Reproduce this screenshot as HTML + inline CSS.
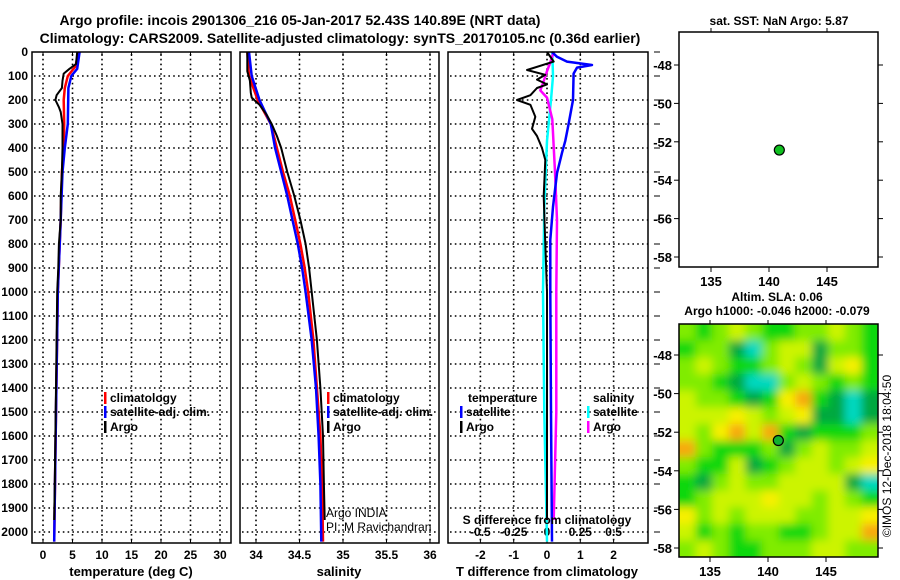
<!DOCTYPE html>
<html><head><meta charset="utf-8"><style>
body{margin:0;background:#fff;}
svg{display:block;font-family:"Liberation Sans",sans-serif;font-weight:bold;}
</style></head><body>
<svg id="s" width="900" height="580" viewBox="0 0 900 580">
<defs>
<filter id="blur" filterUnits="userSpaceOnUse" x="660" y="300" width="240" height="280"><feGaussianBlur stdDeviation="4.5"/></filter>
<clipPath id="mapclip"><rect x="679" y="324" width="199" height="233"/></clipPath>
</defs>
<g id="root"></g>
</svg>
<script>
// ---------- data ----------
const depthTicks=[0,100,200,300,400,500,600,700,800,900,1000,1100,1200,1300,1400,1500,1600,1700,1800,1900,2000];
const tempTicks=[0,5,10,15,20,25,30];
const salTicks=[34,34.5,35,35.5,36];
const salTickLabels=["34","34.5","35","35.5","36"];
const tdiffTicks=[-2,-1,0,1,2];
const sdiffTicks=[-0.5,-0.25,0,0.25,0.5];
const sdiffTickLabels=["-0.5","-0.25","0","0.25","0.5"];

const tArgoDepth=[0,50,70,90,120,150,180,200,230,250,300,400,500,600,700,800,900,1000,1200,1400,1600,1800,1950];
const tArgoVal=[5.8,5.6,4.5,3.5,3.3,3.2,2.3,2.1,2.7,3.0,3.3,3.3,3.2,3.0,3.0,2.7,2.6,2.4,2.3,2.2,2.1,2.0,1.9];
const tClimDepth=[0,60,100,150,200,300,400,500,700,1000,1500,2040];
const tClimVal=[6.0,5.5,4.2,3.7,3.5,3.6,3.5,3.2,3.0,2.5,2.2,1.9];
const tSatDepth=[0,70,100,150,300,400,500,700,1000,1500,2040];
const tSatVal=[6.2,5.8,4.8,4.3,4.2,3.7,3.3,3.0,2.5,2.2,1.9];

const sArgoDepth=[0,80,120,170,190,220,260,300,350,400,500,600,700,800,900,1000,1200,1400,1600,1800,1950];
const sArgoVal=[33.90,33.90,33.93,33.94,33.95,34.04,34.12,34.18,34.24,34.29,34.36,34.44,34.51,34.57,34.61,34.64,34.70,34.74,34.77,34.78,34.79];
const sClimDepth=[0,100,200,300,400,500,600,700,800,900,1000,1200,1400,1600,1800,2040];
const sClimVal=[33.90,33.92,34.02,34.17,34.24,34.31,34.39,34.45,34.51,34.56,34.60,34.66,34.70,34.74,34.76,34.77];
const sSatDepth=[0,100,200,300,400,500,600,700,800,900,1000,1200,1400,1600,1800,2040];
const sSatVal=[33.92,33.95,34.04,34.17,34.22,34.29,34.36,34.42,34.48,34.53,34.57,34.64,34.69,34.72,34.74,34.75];

const dtArgoDepth=[0,40,75,95,115,135,150,180,200,220,270,320,350,400,450,600,800,1000,1950];
const dtArgoVal=[0,0.2,-0.6,-0.05,-0.3,0,-0.3,-0.5,-0.9,-0.5,-0.35,-0.45,-0.3,-0.15,-0.05,-0.1,-0.05,0,0];
const dtSatDepth=[0,20,40,54,65,90,200,300,370,420,505,645,783,1000,1500,2040];
const dtSatVal=[0.15,0.3,0.6,1.35,0.9,0.8,0.78,0.65,0.55,0.45,0.3,0.18,0.1,0.1,0.12,0.15];
const dsArgoDepth=[0,50,80,130,160,190,280,500,700,1000,1500,1950];
const dsArgoVal=[0.05,0.02,0,-0.03,-0.05,0,0.04,0.06,0.075,0.07,0.07,0.05];
const dsSatDepth=[0,100,200,370,650,1000,1500,2040];
const dsSatVal=[0.04,0.045,0.03,0,-0.02,-0.03,-0.02,0];

const lonTicks=[135,140,145];
const latTicks=[-48,-50,-52,-54,-56,-58];
const argoLon=140.89, argoLat=-52.43;

// SLA heatmap, rows north->south, levels 0(teal)..6(orange)
const slaGrid=[
[3,2,3,4,3,2,2,3,3,4,3,2],
[2,3,3,1,0,3,4,4,1,3,3,2],
[3,4,3,2,2,3,4,3,1,4,5,2],
[3,3,2,1,0,0,3,4,3,2,3,2],
[4,3,3,2,1,2,5,6,2,1,0,1],
[4,4,4,5,4,3,4,5,1,1,0,1],
[4,3,5,6,4,6,2,1,2,2,2,3],
[6,3,2,2,2,3,1,3,4,3,3,4],
[3,2,2,4,1,2,3,4,4,3,4,5],
[2,1,3,4,3,3,4,4,4,4,1,0],
[2,3,4,4,4,5,4,4,3,4,3,2],
[5,3,4,3,4,4,4,3,3,4,4,5],
[4,2,3,2,3,3,2,2,3,4,4,6],
[3,4,3,2,2,3,3,3,4,4,3,3]];
const slaColors=["#00d8c0","#00a840","#10d810","#80ec00","#ccf400","#f8f000","#f8a810"];

// ---------- helpers ----------
const NS="http://www.w3.org/2000/svg";
const root=document.getElementById('root');
function el(tag,attrs,parent){const e=document.createElementNS(NS,tag);for(const k in attrs)e.setAttribute(k,attrs[k]);(parent||root).appendChild(e);return e;}
function txt(x,y,s,anchor,size,parent){const t=el('text',{x:x,y:y,'text-anchor':anchor||'middle','font-size':size||12},parent);t.textContent=s;return t;}

const top0=52, pxPerM=0.24, bottom=543;
const yD=d=>top0+d*pxPerM;
const panels=[
 {x0:32,x1:231,fn:v=>43+v*5.9},
 {x0:240,x1:439,fn:v=>256+(v-34)*87},
 {x0:448,x1:648,fn:v=>547+v*33.3}
];
const xS2=v=>547+v*133.2;
const dot={stroke:'#000','stroke-dasharray':'1.6 3.2','stroke-width':1.6};
function dl(x1,y1,x2,y2,g){const a=Object.assign({x1:x1,y1:y1,x2:x2,y2:y2},dot);return el('line',a,g);}

panels.forEach((p,i)=>{
 const g=el('g',{});
 
 
 depthTicks.forEach(d=>{
  if(d>0) dl(p.x0+2,yD(d),p.x1,yD(d),g);
 });
});
depthTicks.forEach(d=>{const t=txt(28,yD(d)+4,String(d),'end',12);});
depthTicks.forEach(d=>{el('line',{x1:654,x2:660,y1:yD(d),y2:yD(d),stroke:'#000'});});

function vgrid(p,vals,fn){vals.forEach(v=>{const x=fn(v);dl(x,top0+2,x,bottom);
 el('line',{x1:x,x2:x,y1:bottom,y2:bottom-4,stroke:'#000'});el('line',{x1:x,x2:x,y1:top0,y2:top0+4,stroke:'#000'});});}
vgrid(panels[0],tempTicks,panels[0].fn);
vgrid(panels[1],salTicks,panels[1].fn);
vgrid(panels[2],tdiffTicks,panels[2].fn);

tempTicks.forEach(v=>{const t=txt(panels[0].fn(v),559,String(v));});
salTicks.forEach((v,i)=>{const t=txt(panels[1].fn(v),559,salTickLabels[i]);});
tdiffTicks.forEach(v=>{const t=txt(panels[2].fn(v),559,String(v));});
sdiffTicks.forEach((v,i)=>{const t=txt(xS2(v),536,sdiffTickLabels[i]);});

function line(depths,vals,fn,color,w,name){
 const pts=depths.map((d,i)=>fn(vals[i]).toFixed(1)+','+yD(d).toFixed(1)).join(' ');
 const pl=el('polyline',{points:pts,fill:'none',stroke:color,'stroke-width':w,'stroke-linejoin':'round'});
 
 
}
line(tClimDepth,tClimVal,panels[0].fn,'#ff0000',2.5,'temp-climatology-line');
line(tSatDepth,tSatVal,panels[0].fn,'#0000ff',2.5,'temp-satellite-line');
line(tArgoDepth,tArgoVal,panels[0].fn,'#000',2,'temp-argo-line');
line(sClimDepth,sClimVal,panels[1].fn,'#ff0000',2.5,'sal-climatology-line');
line(sSatDepth,sSatVal,panels[1].fn,'#0000ff',2.5,'sal-satellite-line');
line(sArgoDepth,sArgoVal,panels[1].fn,'#000',2,'sal-argo-line');
line(dsSatDepth,dsSatVal,xS2,'#00ffff',2.5,'sdiff-satellite-line');
line(dsArgoDepth,dsArgoVal,xS2,'#ff00ff',2.5,'sdiff-argo-line');
line(dtSatDepth,dtSatVal,panels[2].fn,'#0000ff',2.5,'tdiff-satellite-line');
line(dtArgoDepth,dtArgoVal,panels[2].fn,'#000',2,'tdiff-argo-line');

panels.forEach(p=>{el('rect',{x:p.x0,y:top0,width:p.x1-p.x0,height:bottom-top0,fill:'none',stroke:'#000','stroke-width':1.5});});

function leg(x,y,color,label,name){
 el('rect',{x:x,y:y-10,width:2.5,height:12,fill:color});
 const t=txt(x+6,y,label,'start',12);
}
leg(104,402,'#ff0000','climatology','legend-climatology');
leg(104,416,'#0000ff','satellite-adj. clim.','legend-satellite');
leg(104,431,'#000','Argo','legend-argo');
leg(327,402,'#ff0000','climatology','legend-climatology-2');
leg(327,416,'#0000ff','satellite-adj. clim.','legend-satellite-2');
leg(327,431,'#000','Argo','legend-argo-2');
txt(468,402,'temperature','start');
leg(460,416,'#0000ff','satellite','legend-t-satellite');
leg(460,431,'#000','Argo','legend-t-argo');
txt(593,402,'salinity','start');
leg(587,416,'#00ffff','satellite','legend-s-satellite');
leg(587,431,'#ff00ff','Argo','legend-s-argo');
txt(547,524,'S difference from climatology');
const ai=el('text',{x:326,y:517,'font-size':12,'font-weight':'normal','text-anchor':'start'});ai.textContent='Argo INDIA';
const pi=el('text',{x:326,y:531,'font-size':12,'font-weight':'normal','text-anchor':'start'});pi.textContent='PI: M Ravichandran';

txt(131,576,'temperature (deg C)','middle',13);
txt(339,576,'salinity','middle',13);
txt(547,576,'T difference from climatology','middle',13);
const t1=txt(300,25,'Argo profile: incois 2901306_216 05-Jan-2017 52.43S 140.89E (NRT data)','middle',14);
const t2=txt(340,43,'Climatology: CARS2009. Satellite-adjusted climatology: synTS_20170105.nc (0.36d earlier)','middle',14);

// ---------- maps ----------
function mapAxes(x0,y0,x1,y1,lonFn,latFn){
 lonTicks.forEach(v=>{const x=lonFn(v);el('line',{x1:x,x2:x,y1:y1,y2:y1+5,stroke:'#000'});el('line',{x1:x,x2:x,y1:y0,y2:y0-4,stroke:'#000'});txt(x,y1+19,String(v),'middle',13);});
 latTicks.forEach(v=>{const y=latFn(v);el('line',{x1:x0,x2:x0-5,y1:y,y2:y,stroke:'#000'});el('line',{x1:x1,x2:x1+5,y1:y,y2:y,stroke:'#000'});txt(x0-7,y+5,String(v),'end',13);});
 el('rect',{x:x0,y:y0,width:x1-x0,height:y1-y0,fill:'none',stroke:'#000','stroke-width':1.5});
}
const lonA=v=>711+(v-135)*11.6, latA=v=>65+(-48-v)*19.2;
const sstG=el('g',{});
mapAxes(679,32,878,267,lonA,latA);
el('circle',{cx:lonA(argoLon),cy:latA(argoLat),r:5,fill:'#10c020',stroke:'#000','stroke-width':1.2});
txt(779,25,'sat. SST: NaN Argo: 5.87','middle',12);

const mapTop=324, mapBot=557;
const lonB=v=>710+(v-135)*11.6, latB=v=>355+(-48-v)*19.3;
const hm=el('g',{'clip-path':'url(#mapclip)'});

const hmInner=el('g',{filter:'url(#blur)'},hm);
const nR=slaGrid.length,nC=slaGrid[0].length;
const cw=(878-679)/nC, ch=(mapBot-mapTop)/nR;
el('rect',{x:669,y:314,width:219,height:253,fill:'#80ec00'},hmInner);
slaGrid.forEach((row,r)=>row.forEach((v,c)=>{
 const rc=el('rect',{x:679+c*cw-(c==0?10:0),y:mapTop+r*ch-(r==0?10:0),width:cw+0.5+(c==0||c==nC-1?10:0),height:ch+0.5+(r==0||r==nR-1?10:0),fill:slaColors[v]},hmInner);
 
 
}));
mapAxes(679,mapTop,878,mapBot,lonB,latB);
el('circle',{cx:lonB(argoLon),cy:latB(argoLat),r:5,fill:'#10b030',stroke:'#000','stroke-width':1.2});
txt(777,301,'Altim. SLA: 0.06','middle',12);
txt(777,315,'Argo h1000: -0.046 h2000: -0.079','middle',12);
const cr=el('text',{x:0,y:0,'font-size':12,'font-weight':'normal','text-anchor':'middle',transform:'translate(891,456) rotate(-90)'});
cr.textContent='©IMOS 12-Dec-2018 18:04:50';


</script>
</body></html>
